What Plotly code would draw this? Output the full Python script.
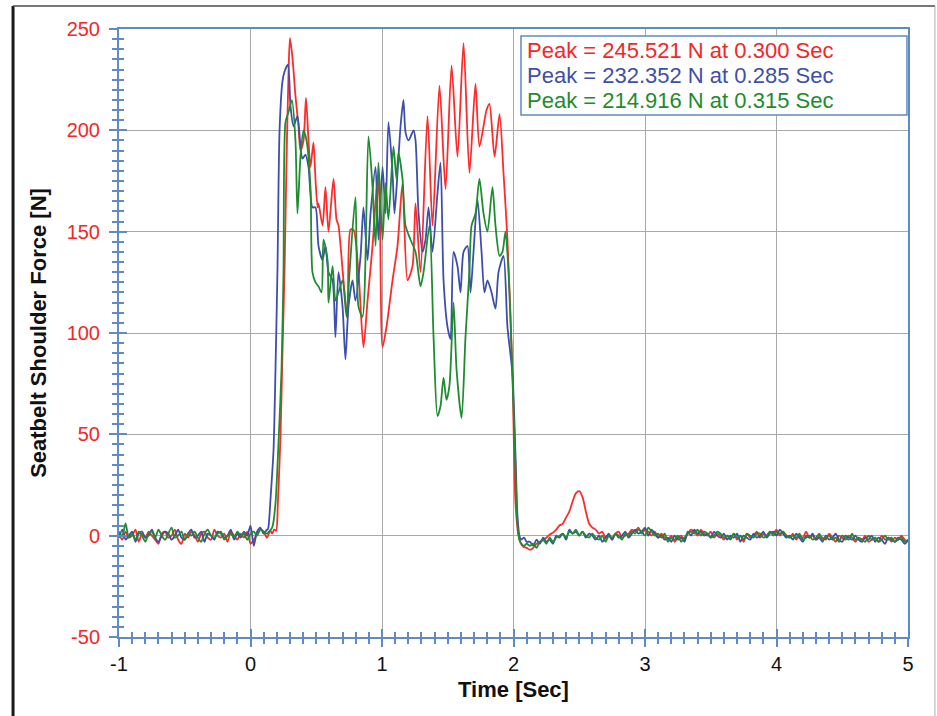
import numpy as np
import plotly.graph_objects as go

# ---------------------------------------------------------------------------
# Seatbelt shoulder force, three runs (sampled force in N vs time in s)
# ---------------------------------------------------------------------------
pre_time = np.round(np.linspace(-1.0, 0.125, 46), 3)    # quiet baseline before the event
post_time = np.round(np.linspace(2.125, 5.0, 116), 3)   # settling after release

# ----- run 1 (red) -----
red_pre = [1, -2, 2, -1, 0, 3, -3, 1, -1, 2,
           0, -2, -4, 1, 2, -1, 0, 3, -2, -4,
           1, -1, 2, 0, -3, 1, 2, -1, -2, 3,
           0, -1, 1, -3, 2, 0, -2, 1, -1, 2,
           -4, -2, 1, 3, 2, -1]
red_main_time = [0.150, 0.165, 0.180, 0.195, 0.208, 0.228, 0.243, 0.259, 0.274, 0.289,
                 0.300, 0.319, 0.342, 0.365, 0.380, 0.403, 0.422, 0.441, 0.456, 0.479,
                 0.494, 0.510, 0.517, 0.548, 0.570, 0.593, 0.631, 0.654, 0.669, 0.707,
                 0.738, 0.760, 0.783, 0.821, 0.859, 0.890, 0.928, 0.966, 0.981, 1.004,
                 1.034, 1.080, 1.118, 1.156, 1.194, 1.232, 1.255, 1.293, 1.346, 1.384,
                 1.437, 1.483, 1.529, 1.574, 1.620, 1.665, 1.711, 1.741, 1.795, 1.817,
                 1.856, 1.894, 1.924, 1.954, 1.992, 2.015, 2.038, 2.053, 2.076, 2.099]
red_main = [2.5, 1, 3, 2.5, 16, 49, 90, 131, 185, 228,
            245.521, 236, 217, 202, 190, 195, 216, 195, 182, 194,
            176, 162, 164, 153, 172, 150, 176, 156, 153, 126,
            107, 151, 151, 130, 93, 116, 143, 176, 166, 93,
            103, 126, 143, 174, 126, 133, 164, 130, 207, 153,
            222, 171, 232, 187, 243, 179, 223, 192, 210, 213,
            187, 208, 179, 146, 80, 16, 0, -3.5, -5.5, -6]
red_post = [-7, -6, -4, -3.5, -2, -1, 0.5, 1.5, 3, 5,
            6, 9, 12, 17, 21, 22, 19, 12, 6, 4,
            3, 1, 2, -1, 0, -2, 1, 2, -1, 0,
            1, 3, 2, 4, 1, 3, 2, 0, 2, -1,
            1, -1, -2, 0, -3, -1, 0, -2, 1, 3,
            2, 0, 3, 1, 0, 2, -1, 1, 0, -2,
            0, -1, 1, -2, 0, -3, 1, -1, 0, 2,
            -1, 1, 0, 2, 1, 3, 0, 2, 0, -1,
            1, -2, 0, -1, 2, -1, 0, -2, 0, -1,
            -2, 1, -1, -3, 0, -1, -2, 0, -1, -3,
            -1, -2, 0, -3, -2, -1, -3, 0, -2, -1,
            -3, -1, -2, 0, -2, -3]

# ----- run 2 (blue) -----
blue_pre = [-1, 3, -2, 0, 2, -3, 1, 2, -1, 0,
            3, -1, -3, 0, 2, 1, -2, 0, 3, -1,
            -2, 1, 3, -1, 0, 2, -3, 1, 0, -2,
            2, 1, -1, 0, 3, -2, 1, -1, 2, 0,
            5, -5, 2, 4, 1, 3]
blue_main_time = [0.130, 0.137, 0.152, 0.175, 0.190, 0.205, 0.221, 0.243, 0.259, 0.285,
                  0.304, 0.327, 0.357, 0.380, 0.395, 0.418, 0.441, 0.471, 0.494, 0.517,
                  0.548, 0.570, 0.593, 0.624, 0.646, 0.669, 0.700, 0.722, 0.745, 0.776,
                  0.798, 0.837, 0.859, 0.890, 0.913, 0.951, 0.973, 1.004, 1.027, 1.049,
                  1.080, 1.095, 1.118, 1.141, 1.163, 1.179, 1.202, 1.240, 1.255, 1.278,
                  1.308, 1.331, 1.354, 1.384, 1.422, 1.445, 1.468, 1.498, 1.521, 1.544,
                  1.574, 1.597, 1.620, 1.650, 1.673, 1.696, 1.726, 1.757, 1.779, 1.802,
                  1.833, 1.863, 1.886, 1.924, 1.954, 1.992, 2.015, 2.030, 2.045, 2.060,
                  2.080, 2.100]
blue_main = [3, 4.4, 18, 42, 82, 131, 200, 224, 229, 232.352,
             212, 202, 207, 192, 186, 188, 182, 162, 162, 143,
             136, 143, 130, 126, 98, 130, 113, 87, 113, 126,
             116, 138, 162, 136, 159, 182, 146, 182, 159, 204,
             179, 159, 179, 202, 215, 199, 195, 200, 195, 159,
             140, 146, 162, 140, 169, 184, 126, 103, 97, 140,
             133, 120, 140, 143, 120, 140, 166, 140, 120, 126,
             120, 112, 130, 138, 103, 80, 40, 10, 0, -2,
             -1, -3]
blue_post = [-3, -5, -2, -4, -1, -3, -2, -4, 0, -1,
             1, -2, 3, 1, 2, 0, 2, -1, 1, 0,
             -2, 0, -3, -1, 1, -2, 1, -1, 0, 2,
             -1, 1, 3, 1, 2, 4, 0, 3, 1, -1,
             0, -2, -1, -3, 0, -2, -1, -3, 2, 0,
             3, 1, 2, 0, 1, -1, 2, 0, -1, 1,
             -2, 0, -1, 1, -3, 0, -1, -2, 1, -1,
             0, 2, -1, 1, 2, 0, 3, 1, -1, 0,
             -2, 1, -1, -3, 0, -1, 1, -2, -1, -3,
             0, -2, -1, 1, -2, -3, 0, -1, -2, 0,
             -2, -3, -1, -2, 0, -3, -1, -2, -4, -1,
             -2, -3, -1, -2, -4, -2]

# ----- run 3 (green) -----
green_pre = [2, 0, 6, -1, 1, -2, 2, 0, -3, 1,
             2, -1, 3, 0, -2, 1, 4, -1, 0, 2,
             -2, 1, 0, 2, -1, -3, 1, 3, 0, -1,
             1, 2, -2, 0, 1, -1, 2, 0, 1, -2,
             1, 2, 0, 3, 2, 1]
green_main_time = [0.140, 0.155, 0.167, 0.190, 0.213, 0.236, 0.251, 0.266, 0.289, 0.315,
                   0.342, 0.357, 0.380, 0.403, 0.426, 0.456, 0.471, 0.494, 0.517, 0.540,
                   0.555, 0.586, 0.593, 0.624, 0.646, 0.669, 0.700, 0.730, 0.753, 0.798,
                   0.821, 0.852, 0.897, 0.928, 0.951, 0.973, 1.004, 1.027, 1.049, 1.087,
                   1.110, 1.125, 1.156, 1.179, 1.217, 1.255, 1.293, 1.316, 1.361, 1.392,
                   1.422, 1.445, 1.468, 1.490, 1.513, 1.544, 1.567, 1.605, 1.635, 1.665,
                   1.681, 1.711, 1.741, 1.772, 1.802, 1.840, 1.863, 1.894, 1.916, 1.939,
                   1.962, 1.992, 2.015, 2.030, 2.045, 2.060, 2.080, 2.100]
green_main = [2, 3, 4.4, 16, 46, 82, 131, 204, 209, 214.916,
              195, 159, 187, 200, 195, 172, 130, 125, 123, 120,
              146, 136, 115, 133, 116, 120, 126, 108, 130, 167,
              113, 108, 197, 172, 143, 184, 146, 174, 156, 192,
              176, 189, 176, 153, 146, 140, 123, 130, 153, 98,
              59, 64, 78, 67, 74, 115, 82, 58, 98, 131,
              153, 159, 176, 159, 150, 172, 153, 138, 140, 150,
              130, 80, 33, 6, -2, -4, -5, -4]
green_post = [-5, -4, -6, -3, -2, -4, -1, -3, -1, 0,
              1, -1, 2, 1, 3, 0, 2, 0, -1, 1,
              -1, -2, 0, -3, 0, -1, 1, 0, -2, 1,
              0, 2, 1, 3, 2, 0, 4, 2, 0, 1,
              -1, 1, -3, -1, -2, 0, -3, -1, 1, 2,
              1, 3, 0, 2, 1, -1, 0, 2, 1, -1,
              0, -2, 1, -1, 0, -2, 1, 0, -1, 1,
              1, -1, 0, 2, 0, 2, 1, 2, 0, -1,
              0, -1, 1, -2, -1, 0, -2, -1, 1, -2,
              -1, 0, -2, -1, -3, 0, -1, -2, 1, -2,
              -1, -2, -3, 0, -2, -1, -3, -2, 0, -2,
              -1, -3, -2, -1, -3, -2]

x_ticks = [-1, 0, 1, 2, 3, 4, 5]
x_tick_text = ["-1", "0", "1", "2", "3", "4", "5"]
y_ticks = [-50, 0, 50, 100, 150, 200, 250]
y_tick_text = ["-50", "0", "50", "100", "150", "200", "250"]

AXIS_BLUE = "#5f8ac4"
GRID = "#a9a9a9"
FONT = "Liberation Sans, Arial, sans-serif"

runs = [
    ("Run 1", red_pre, red_main_time, red_main, red_post, "#ff2a2a", "#f52626"),
    ("Run 2", blue_pre, blue_main_time, blue_main, blue_post, "#3d4fae", "#3e4fa8"),
    ("Run 3", green_pre, green_main_time, green_main, green_post, "#1f8c30", "#228b2d"),
]

fig = go.Figure()
peak_lines = []
for name, pre, mt, mv, post, line_color, text_color in runs:
    t = np.concatenate([pre_time, mt, post_time])
    f = np.concatenate([pre, mv, post])
    fig.add_trace(go.Scatter(x=t, y=f, mode="lines", name=name,
                             line=dict(color=line_color, width=1.8,
                                       shape="spline", smoothing=0.7),
                             showlegend=False, hoverinfo="x+y"))
    k = int(np.argmax(f))
    peak_lines.append((f"Peak = {f[k]:.3f} N at {t[k]:.3f} Sec", text_color))

# helper trace so the second (inner-tick) axis pair is drawn
fig.add_trace(go.Scatter(x=[None], y=[None], xaxis="x2", yaxis="y2",
                         showlegend=False, hoverinfo="skip"))

common_x = dict(range=[-1, 5], tickvals=x_ticks, ticktext=x_tick_text, zeroline=False)
common_y = dict(range=[-50, 250], tickvals=y_ticks, ticktext=y_tick_text, zeroline=False)

fig.update_layout(
    width=937, height=716,
    margin=dict(l=119, r=29, t=29, b=79),
    paper_bgcolor="white", plot_bgcolor="white",
    font=dict(family=FONT),
    xaxis=dict(
        **common_x,
        showline=True, linecolor=AXIS_BLUE, linewidth=2, mirror=True,
        ticks="outside", ticklen=8, tickwidth=2, tickcolor=AXIS_BLUE,
        ticklabelstandoff=0,
        minor=dict(dtick=0.1, tick0=0, ticks="outside", ticklen=5, tickwidth=1.5,
                   tickcolor=AXIS_BLUE, showgrid=False),
        showgrid=True, gridcolor=GRID, gridwidth=1,
        tickfont=dict(size=20, color="#111111", family=FONT),
        title=dict(text="<b>Time [Sec]</b>", font=dict(size=22, color="#111111", family=FONT),
                   standoff=8),
    ),
    yaxis=dict(
        **common_y,
        showline=True, linecolor=AXIS_BLUE, linewidth=2, mirror=True,
        ticks="outside", ticklen=8, tickwidth=2, tickcolor=AXIS_BLUE,
        ticklabelstandoff=5,
        minor=dict(dtick=5, tick0=0, ticks="outside", ticklen=5, tickwidth=1.5,
                   tickcolor=AXIS_BLUE, showgrid=False),
        showgrid=True, gridcolor=GRID, gridwidth=1,
        tickfont=dict(size=20, color="#f52626", family=FONT),
        title=dict(text="<b>Seatbelt Shoulder Force [N]</b>",
                   font=dict(size=22, color="#111111", family=FONT), standoff=14),
    ),
    xaxis2=dict(
        **common_x, overlaying="x", anchor="y2", side="bottom",
        showline=False, showgrid=False, showticklabels=False,
        ticks="inside", ticklen=8, tickwidth=2, tickcolor=AXIS_BLUE,
        minor=dict(dtick=0.1, tick0=0, ticks="inside", ticklen=5, tickwidth=1.5,
                   tickcolor=AXIS_BLUE, showgrid=False),
    ),
    yaxis2=dict(
        **common_y, overlaying="y", anchor="x2", side="left",
        showline=False, showgrid=False, showticklabels=False,
        ticks="inside", ticklen=8, tickwidth=2, tickcolor=AXIS_BLUE,
        minor=dict(dtick=5, tick0=0, ticks="inside", ticklen=5, tickwidth=1.5,
                   tickcolor=AXIS_BLUE, showgrid=False),
    ),
)

# page frame around the figure
fig.add_shape(type="line", xref="paper", yref="paper", x0=-0.1343, x1=-0.1343,
              y0=-0.2, y1=1.0378, line=dict(color="#1a1a1a", width=3))
fig.add_shape(type="line", xref="paper", yref="paper", x0=-0.1343, x1=1.0342,
              y0=1.0378, y1=1.0378, line=dict(color="#4a4a4a", width=1.5))
fig.add_shape(type="line", xref="paper", yref="paper", x0=1.0342, x1=1.0342,
              y0=-0.2, y1=1.0378, line=dict(color="#b0b0b0", width=1))

# peak summary box
fig.add_shape(type="rect", xref="paper", yref="paper", x0=0.5095, x1=0.9987,
              y0=0.8585, y1=0.9885, line=dict(color=AXIS_BLUE, width=1.5),
              fillcolor="white", layer="above")
for (txt, col), yp in zip(peak_lines, [0.9650, 0.9235, 0.8820]):
    fig.add_annotation(xref="paper", yref="paper", x=0.515, y=yp, text=txt,
                       showarrow=False, xanchor="left", yanchor="middle",
                       font=dict(size=22, color=col, family=FONT))

fig.write_html("out.html")
